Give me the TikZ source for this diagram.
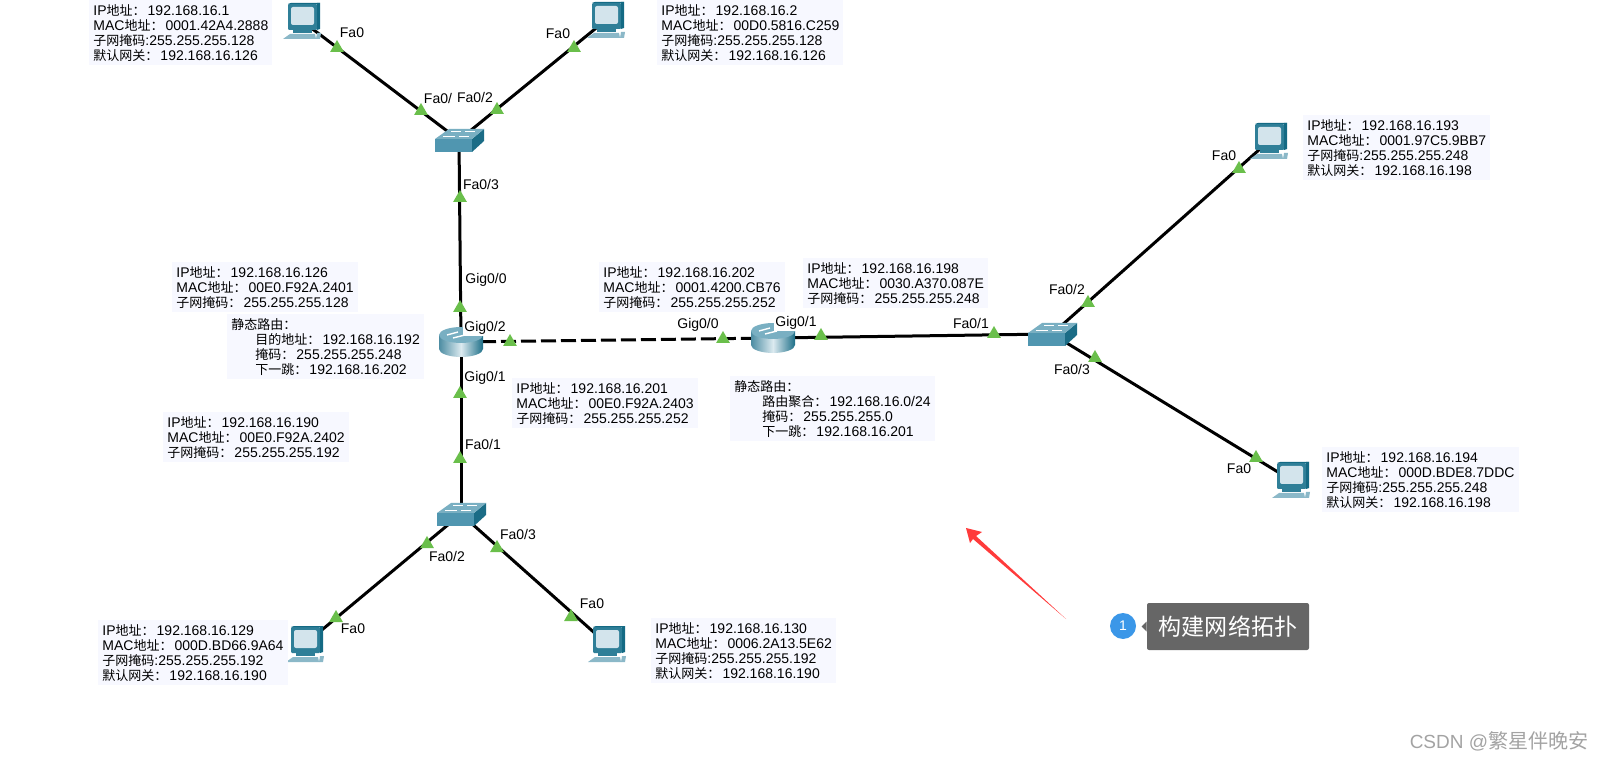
\documentclass[tikz,border=0pt]{standalone}
\usepackage{fontspec}
\setmainfont{Liberation Sans}
\newfontfamily\cjk[Scale=0.93]{Noto Sans CJK SC}
\newcommand{\zh}[1]{{\cjk #1}}
\newcommand{\ipline}[1]{IP\zh{地址：}\hspace{1pt}#1}
\newcommand{\macline}[1]{MAC\zh{地址：}\hspace{1pt}#1}
\newcommand{\maskline}[1]{\zh{子网掩码：}\hspace{1pt}#1}
\newcommand{\pcmask}[1]{\zh{子网掩码}:#1}
\newcommand{\gwline}[1]{\zh{默认网关：}\hspace{1pt}#1}
\usetikzlibrary{shapes.geometric,calc}
\definecolor{boxFill}{HTML}{F7F8FF}
\definecolor{portGreen}{HTML}{6ABF4B}
\definecolor{pcFrame}{HTML}{2F7F98}
\definecolor{pcDark}{HTML}{146A84}
\definecolor{pcScreen}{HTML}{D3E4EC}
\definecolor{pcKey}{HTML}{8BB8C8}
\definecolor{swTop}{HTML}{79AFC2}
\definecolor{swFront}{HTML}{5096B0}
\definecolor{swSide}{HTML}{1B6C86}
\definecolor{rtLeft}{HTML}{4D8DA3}
\definecolor{rtMid}{HTML}{DCEAF0}
\definecolor{rtRight}{HTML}{1D6F88}
\definecolor{arrowRed}{HTML}{FF3B3B}
\definecolor{tipGray}{HTML}{666666}
\definecolor{badgeBlue}{HTML}{3B97E8}
\definecolor{markGray}{HTML}{A3A3A3}
\tikzset{
  info/.style   ={anchor=north west, align=left, fill=boxFill, inner sep=2pt, font=\fontsize{7}{7.5}\selectfont},
  portlbl/.style={fill=white, inner sep=.6pt, font=\fontsize{7}{8}\selectfont},
  port/.style   ={regular polygon, regular polygon sides=3, fill=portGreen, inner sep=0pt, minimum size=8pt},
  link/.style   ={line width=1.5pt},
  dashlink/.style={line width=1.5pt, dash pattern=on 7.5pt off 2.5pt},
  pcdev/.style  ={inner sep=0pt, minimum width=18pt, minimum height=18pt},
  swdev/.style  ={inner sep=0pt, minimum width=24pt, minimum height=12pt},
  rtdev/.style  ={inner sep=0pt, minimum width=22pt, minimum height=15pt},
  pcicon/.pic={
    \fill[pcFrame, rounded corners=.5pt] (-14,-17) rectangle (15,9);
    \fill[pcDark] (15,-18) -- (18,-18) -- (18,8) -- (15,9) -- cycle;
    \fill[pcDark] (-14,-17) -- (-11,-18) -- (18,-18) -- (15,-17) -- cycle;
    \fill[pcScreen, rounded corners=1pt] (-11,-14) rectangle (12,4);
    \fill[pcFrame] (-9,9) rectangle (10,12);
    \fill[pcKey] (-12,13) -- (13,13) -- (14,18) -- (-19,18) -- cycle;
    \fill[pcKey] (15,12) -- (19,12) -- (18,18) -- (14,18) -- cycle;
  },
  swicon/.pic={
    \fill[swFront] (-24,-1) rectangle (13,12);
    \fill[swSide] (13,-1) -- (25,-11) -- (25,1) -- (13,12) -- cycle;
    \fill[swTop] (-24,-1) -- (-10,-11) -- (25,-11) -- (13,-1) -- cycle;
    \draw[white, line width=.5pt] (-8,-8) -- (2,-8) (6,-8) -- (16,-8);
    \draw[white, line width=.5pt] (-16,-3) -- (-4,-3) (0,-3) -- (10,-3);
  },
  rticon/.pic={
    \shade[left color=rtLeft, right color=rtRight, middle color=rtMid]
      (-22,-7) -- (-22,7) arc[start angle=180, end angle=0, x radius=22, y radius=8] -- (22,-7) -- cycle;
    \fill[swTop] (0,-7) ellipse[x radius=22, y radius=8];
    \draw[white, line width=.7pt] (-14,-7) -- (-3,-10) (-8,-4) -- (4,-7);
  },
}
\begin{document}
\begin{tikzpicture}[x=.5pt, y=-.5pt]
  \useasboundingbox (0,0) rectangle (1603,759);

  \node[pcdev] (pcTL) at (302,21)  {};
  \node[pcdev] (pcTR) at (606,20)  {};
  \node[pcdev] (pcRT) at (1269,141) {};
  \node[pcdev] (pcRB) at (1291,480) {};
  \node[pcdev] (pcBL) at (305,644) {};
  \node[pcdev] (pcBR) at (607,644) {};
  \node[swdev] (swT)  at (459,140) {};
  \node[swdev] (swB)  at (461,514) {};
  \node[swdev] (swR)  at (1052,334) {};
  \node[rtdev] (rtL)  at (461,342) {};
  \node[rtdev] (rtR)  at (773,338) {};

  \draw[link] (pcTL.center)--(swT.center); \draw[link] (pcTR.center)--(swT.center);
  \draw[link] (swT.center)--(rtL.center);  \draw[link] (rtL.center)--(swB.center);
  \draw[link] (swB.center)--(pcBL.center); \draw[link] (swB.center)--(pcBR.center);
  \draw[dashlink] (rtL.center)--(rtR.center);
  \draw[link] (rtR.center)--(swR.center);
  \draw[link] (swR.center)--(pcRT.center); \draw[link] (swR.center)--(pcRB.center);

  \foreach \n in {pcTL,pcTR,pcRT,pcRB,pcBL,pcBR} \pic at (\n) {pcicon};
  \foreach \n in {swT,swB,swR} \pic at (\n) {swicon};
  \foreach \n in {rtL,rtR} \pic at (\n) {rticon};

  \foreach \n/\x/\y in {a/337/48, b/421/111, c/497/110, d/574/48, e/460/198, f/460/308,
      g/460/394, h/460/459, i/510/342, j/723/339, k/821/336, l/994/334, m/1088/303,
      n/1095/358, o/1256/458, p/1239/169, q/427/544, r/497/548, s/336/618, t/571/617}
    \node[port] (port\n) at (\x,\y) {};

  \node[portlbl] (lblA) at (352,33)  {Fa0};
  \node[portlbl] (lblB) at (438,99)  {Fa0/};
  \node[portlbl] (lblC) at (475,97)  {Fa0/2};
  \node[portlbl] (lblD) at (558,34)  {Fa0};
  \node[portlbl] (lblE) at (481,184) {Fa0/3};
  \node[portlbl] (lblF) at (486,280) {Gig0/0};
  \node[portlbl] (lblG) at (485,328) {Gig0/2};
  \node[portlbl] (lblH) at (485,378) {Gig0/1};
  \node[portlbl] (lblI) at (698,325) {Gig0/0};
  \node[portlbl] (lblJ) at (796,323) {Gig0/1};
  \node[portlbl] (lblK) at (971,323) {Fa0/1};
  \node[portlbl] (lblL) at (1067,289) {Fa0/2};
  \node[portlbl] (lblM) at (1072,369) {Fa0/3};
  \node[portlbl] (lblN) at (1239,469) {Fa0};
  \node[portlbl] (lblO) at (1224,156) {Fa0};
  \node[portlbl] (lblP) at (483,444) {Fa0/1};
  \node[portlbl] (lblQ) at (447,556) {Fa0/2};
  \node[portlbl] (lblR) at (518,534) {Fa0/3};
  \node[portlbl] (lblS) at (353,629) {Fa0};
  \node[portlbl] (lblT) at (592,604) {Fa0};

  \node[info] (infoA) at (89,0)    {\ipline{192.168.16.1}\\\macline{0001.42A4.2888}\\\pcmask{255.255.255.128}\\\gwline{192.168.16.126}};
  \node[info] (infoB) at (657,0)   {\ipline{192.168.16.2}\\\macline{00D0.5816.C259}\\\pcmask{255.255.255.128}\\\gwline{192.168.16.126}};
  \node[info] (infoC) at (1303,115) {\ipline{192.168.16.193}\\\macline{0001.97C5.9BB7}\\\pcmask{255.255.255.248}\\\gwline{192.168.16.198}};
  \node[info] (infoD) at (1322,447) {\ipline{192.168.16.194}\\\macline{000D.BDE8.7DDC}\\\pcmask{255.255.255.248}\\\gwline{192.168.16.198}};
  \node[info] (infoE) at (98,620)  {\ipline{192.168.16.129}\\\macline{000D.BD66.9A64}\\\pcmask{255.255.255.192}\\\gwline{192.168.16.190}};
  \node[info] (infoF) at (651,618) {\ipline{192.168.16.130}\\\macline{0006.2A13.5E62}\\\pcmask{255.255.255.192}\\\gwline{192.168.16.190}};
  \node[info] (infoG) at (172,262) {\ipline{192.168.16.126}\\\macline{00E0.F92A.2401}\\\maskline{255.255.255.128}};
  \node[info] (infoH) at (163,412) {\ipline{192.168.16.190}\\\macline{00E0.F92A.2402}\\\maskline{255.255.255.192}};
  \node[info] (infoI) at (512,378) {\ipline{192.168.16.201}\\\macline{00E0.F92A.2403}\\\maskline{255.255.255.252}};
  \node[info] (infoJ) at (599,262) {\ipline{192.168.16.202}\\\macline{0001.4200.CB76}\\\maskline{255.255.255.252}};
  \node[info] (infoK) at (803,258) {\ipline{192.168.16.198}\\\macline{0030.A370.087E}\\\maskline{255.255.255.248}};
  \node[info] (infoL) at (227,314) {\zh{静态路由：}\\\hspace*{12pt}\zh{目的地址：}\hspace{1pt}192.168.16.192\\\hspace*{12pt}\zh{掩码：}\hspace{1pt}255.255.255.248\\\hspace*{12pt}\zh{下一跳：}\hspace{1pt}192.168.16.202};
  \node[info] (infoM) at (730,376) {\zh{静态路由：}\\\hspace*{14pt}\zh{路由聚合：}\hspace{1pt}192.168.16.0/24\\\hspace*{14pt}\zh{掩码：}\hspace{1pt}255.255.255.0\\\hspace*{14pt}\zh{下一跳：}\hspace{1pt}192.168.16.201};

  \coordinate (arrowTip) at (966,528);
  \coordinate (arrowEnd) at (1066,619);
  \fill[arrowRed] (arrowTip) -- (982,532) -- (976,536) -- (arrowEnd) -- (973,539) -- (970,543) -- cycle;

  \node[fill=tipGray, rounded corners=1pt, minimum width=81pt, minimum height=23.5pt, inner sep=0pt,
        text=white, font=\cjk\fontsize{12.4}{14}\selectfont] (tipbox) at (1228,626.5) {构建网络拓扑};
  \fill[tipGray] (tipbox.west) ++(-5,0) -- ++(5,-5) -- ++(0,10) -- cycle;
  \node[circle, fill=badgeBlue, text=white, inner sep=0pt, minimum size=13pt, font=\fontsize{7}{8}\selectfont] (badge) at (1123,626) {1};
  \node[text=markGray, inner sep=0pt, anchor=east, font=\fontsize{9.5}{11}\selectfont] (mark) at (1589,741) {CSDN @\zh{\fontsize{10.8}{11}\selectfont 繁星伴晚安}};
\end{tikzpicture}
\end{document}
